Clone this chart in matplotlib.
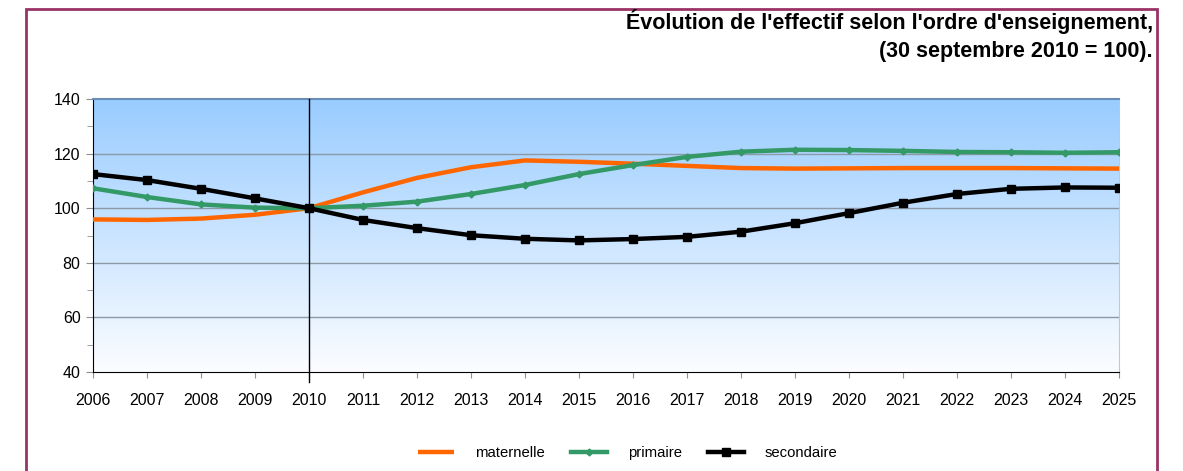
import numpy as np
import matplotlib
matplotlib.use("Agg")
import matplotlib.pyplot as plt
from matplotlib.patches import Rectangle
from matplotlib.ticker import MultipleLocator

plt.rcParams["font.family"] = ["Liberation Sans", "DejaVu Sans"]

years = list(range(2006, 2026))
maternelle = [95.9, 95.7, 96.2, 97.6, 100.0, 105.8, 111.1, 115.0, 117.5, 117.0,
              116.3, 115.5, 114.7, 114.5, 114.6, 114.7, 114.7, 114.7, 114.6, 114.5]
primaire = [107.3, 104.1, 101.4, 100.2, 100.0, 100.9, 102.4, 105.2, 108.5, 112.5,
            115.8, 118.8, 120.7, 121.4, 121.3, 121.0, 120.6, 120.5, 120.3, 120.5]
secondaire = [112.5, 110.3, 107.1, 103.6, 100.0, 95.7, 92.7, 90.1, 88.8, 88.2,
              88.7, 89.5, 91.4, 94.5, 98.2, 102.0, 105.2, 107.1, 107.6, 107.5]
labels = ["maternelle", "primaire", "secondaire"]
title_lines = ["Évolution de l'effectif selon l'ordre d'enseignement,",
               "(30 septembre 2010 = 100)."]

W, H = 1183, 471
fig = plt.figure(figsize=(W / 100, H / 100), dpi=100)
ax = fig.add_axes([93 / W, 1 - 372 / H, (1119 - 93) / W, (372 - 99) / H])

# blue gradient background (light blue at top, almost white at bottom)
top = np.array([153, 204, 255]) / 255
bot = np.array([252, 253, 255]) / 255
t = np.linspace(0, 1, 256)[:, None]
grad = top * (1 - t) + bot * t
ax.imshow(grad[:, None, :], aspect="auto", extent=[2006, 2025, 40, 140],
          origin="upper", zorder=0, interpolation="bilinear")

ax.set_xlim(2006, 2025)
ax.set_ylim(40, 140)

for y in [60, 80, 100, 120]:
    ax.axhline(y, color="#8c9aa8", lw=1, zorder=1)

ax.plot(years, maternelle, color="#ff6600", lw=3.2, label=labels[0], zorder=3,
        solid_capstyle="butt")
ax.plot(years, primaire, color="#339966", lw=3.2, marker="D", ms=3.5,
        label=labels[1], zorder=4)
ax.plot(years, secondaire, color="black", lw=3.2, marker="s", ms=5.5,
        label=labels[2], zorder=5)

ax.plot([2010, 2010], [140, 36.3], color="black", lw=1, clip_on=False, zorder=6)

ax.set_xticks(years)
ax.set_yticks(range(40, 141, 20))
ax.yaxis.set_minor_locator(MultipleLocator(10))
ax.tick_params(axis="both", which="both", direction="out", color="#909090",
               labelsize=11.5, labelcolor="black")
ax.tick_params(axis="x", length=4, pad=11)
ax.tick_params(axis="y", which="major", length=5, pad=4)
ax.tick_params(axis="y", which="minor", length=4)

ax.spines["left"].set_color("black")
ax.spines["bottom"].set_color("black")
ax.spines["top"].set_color("#6a8db5")
ax.spines["top"].set_linewidth(1.5)
ax.spines["right"].set_color("#c0c8d0")

fig.text(1153 / W, 1 - 22 / H, title_lines[0], ha="right", va="center",
         fontsize=15.5, fontweight="bold")
fig.text(1153 / W, 1 - 52 / H, title_lines[1], ha="right", va="center",
         fontsize=15.5, fontweight="bold")

fig.legend(loc="center", bbox_to_anchor=(628 / W, 1 - 453 / H), ncol=3,
           frameon=False, fontsize=10.7, handlelength=2.4, columnspacing=1.8,
           handletextpad=1.4)

fig.add_artist(Rectangle((26 / W, -0.05), (1157 - 26) / W, 1.05 - 9 / H,
                         transform=fig.transFigure, fill=False,
                         edgecolor="#993366", lw=2, clip_on=False))

fig.savefig("out.png", dpi=100)
